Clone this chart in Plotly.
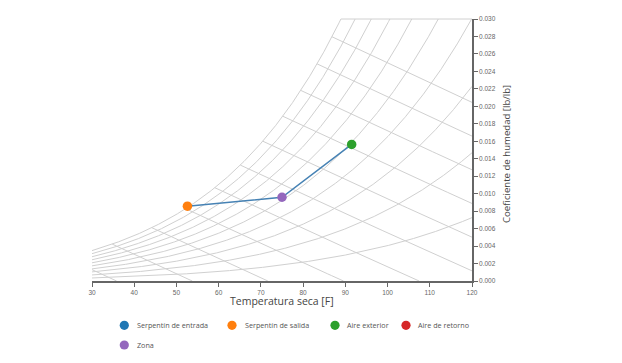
import numpy as np
import plotly.graph_objects as go

# ---------------- data ----------------
series_names = ["Serpentín de entrada", "Serpentín de salida", "Aire exterior",
                "Aire de retorno", "Zona"]
series_colors = ["#1f77b4", "#ff7f0e", "#2ca02c", "#d62728", "#9467bd"]

# visible state points (dry bulb [F], humidity ratio [lb/lb])
point_series = ["Serpentín de salida", "Zona", "Aire exterior"]
point_dry_bulb = [52.6, 75.0, 91.5]
point_humidity = [0.00857, 0.00959, 0.01564]

# process line joining the states
process_dry_bulb = [52.6, 75.0, 91.5]
process_humidity = [0.00857, 0.00959, 0.01564]

x_tick_values = [30, 40, 50, 60, 70, 80, 90, 100, 110, 120]
y_tick_values = [0.000, 0.002, 0.004, 0.006, 0.008, 0.010, 0.012, 0.014,
                 0.016, 0.018, 0.020, 0.022, 0.024, 0.026, 0.028, 0.030]

rh_levels = [0.1, 0.2, 0.3, 0.4, 0.5, 0.6, 0.7, 0.8, 0.9, 1.0]
enthalpy_levels_kj = [20, 30, 40, 50, 60, 70, 80, 90, 100, 110, 120]

T_MIN, T_MAX = 30, 120
W_MAX = 0.030
P_ATM = 14.696

# ---------------- psychrometric helpers (IP units) ----------------
def p_ws(t_f):
    T = np.asarray(t_f, dtype=float) + 459.67
    return np.exp(-1.0440397e4 / T - 1.1294650e1 - 2.7022355e-2 * T
                  + 1.2890360e-5 * T ** 2 - 2.4780681e-9 * T ** 3
                  + 6.5459673 * np.log(T))

def w_rh(t, rh):
    pw = rh * p_ws(t)
    return 0.621945 * pw / (P_ATM - pw)

def h_btu(t, w):
    return 0.240 * t + w * (1061.0 + 0.444 * t)

GRID = "#d0d0d0"
fig = go.Figure()

# relative humidity curves
t_grid = np.linspace(T_MIN, T_MAX, 721)
t_top = None
for rh in rh_levels:
    w = w_rh(t_grid, rh)
    keep = w <= W_MAX
    tt = list(t_grid[keep])
    ww = list(w[keep])
    if not keep.all():
        tc = float(np.interp(W_MAX, w, t_grid))
        tt.append(tc)
        ww.append(W_MAX)
        if rh == 1.0:
            t_top = tc
    fig.add_trace(go.Scatter(x=tt, y=ww, mode="lines", hoverinfo="skip",
                             line=dict(color=GRID, width=1), showlegend=False))

# enthalpy lines
def sat_temp_for_h(h):
    lo, hi = -20.0, 140.0
    for _ in range(80):
        mid = 0.5 * (lo + hi)
        if h_btu(mid, w_rh(mid, 1.0)) > h:
            hi = mid
        else:
            lo = mid
    return 0.5 * (lo + hi)

for hk in enthalpy_levels_kj:
    h = hk / 2.326
    ts = sat_temp_for_h(h)
    t0 = max(T_MIN, ts)
    t1 = min(T_MAX, h / 0.240)
    if t0 >= t1:
        continue
    tt = np.linspace(t0, t1, 40)
    ww = (h - 0.240 * tt) / (1061.0 + 0.444 * tt)
    fig.add_trace(go.Scatter(x=tt, y=ww, mode="lines", hoverinfo="skip",
                             line=dict(color=GRID, width=1), showlegend=False))

# process line
fig.add_trace(go.Scatter(x=process_dry_bulb, y=process_humidity, mode="lines",
                         line=dict(color="#4682b4", width=1.5), showlegend=False))

# state points
for name, t, w in zip(point_series, point_dry_bulb, point_humidity):
    col = series_colors[series_names.index(name)]
    fig.add_trace(go.Scatter(x=[t], y=[w], mode="markers", name=name,
                             marker=dict(color=col, size=9.5, line=dict(width=0)),
                             showlegend=False))

shapes = []
if t_top is not None:
    shapes.append(dict(type="line", xref="x", yref="paper", x0=t_top, x1=T_MAX,
                       y0=1, y1=1, line=dict(color=GRID, width=1), layer="below"))

# page offset of the plot div (browser body margin)
OFF = 8
FIG_W, FIG_H = 622 - 2 * OFF, 363 - 2 * OFF
# plot area in window pixels
L, R, TOP, BOT = 92, 472, 15, 281

def px_x(p):
    return (p - L) / (R - L)

def px_y(p):
    return (BOT - p) / (BOT - TOP)

legend_pos = [(124.3, 135.0, 326), (232.0, 242.7, 326), (335.0, 345.0, 326),
              (406.0, 416.0, 326), (124.3, 135.0, 346)]
annotations = []
for name, col, (cx, tx, cy) in zip(series_names, series_colors, legend_pos):
    shapes.append(dict(type="circle", xref="paper", yref="paper",
                       xsizemode="pixel", ysizemode="pixel",
                       xanchor=px_x(cx), yanchor=px_y(cy),
                       x0=-4.6, x1=4.6, y0=-4.6, y1=4.6,
                       fillcolor=col, line=dict(width=0)))
    annotations.append(dict(xref="paper", yref="paper", x=px_x(tx), y=px_y(cy),
                            xanchor="left", yanchor="middle", showarrow=False,
                            text=name,
                            font=dict(family="Open Sans", size=7.2, color="#555")))

annotations.append(dict(xref="paper", yref="paper", x=0.5, y=px_y(301),
                        xanchor="center", yanchor="middle", showarrow=False,
                        text="Temperatura seca [F]",
                        font=dict(family="Open Sans", size=10.5, color="#444")))
annotations.append(dict(xref="paper", yref="paper", x=px_x(507), y=px_y(152),
                        xanchor="center", yanchor="middle", showarrow=False,
                        textangle=-90, text="Coeficiente de humedad [lb/lb]",
                        font=dict(family="Open Sans", size=9.6, color="#444")))

fig.update_layout(
    width=FIG_W, height=FIG_H,
    margin=dict(l=L - OFF, r=FIG_W - (R - OFF), t=TOP - OFF, b=FIG_H - (BOT - OFF)),
    paper_bgcolor="white", plot_bgcolor="white",
    shapes=shapes, annotations=annotations, showlegend=False,
    xaxis=dict(range=[T_MIN, T_MAX], tickvals=x_tick_values,
               ticktext=[str(v) for v in x_tick_values],
               showgrid=False, zeroline=False, showline=True,
               linecolor="#666", linewidth=1.5, ticks="outside", ticklen=4,
               tickcolor="#666", tickwidth=1,
               tickfont=dict(family="Liberation Sans", size=6.5, color="#666")),
    yaxis=dict(range=[0, W_MAX], side="right", tickvals=y_tick_values,
               tickformat=".3f", showgrid=False, zeroline=False, showline=True,
               linecolor="#666", linewidth=1.5, ticks="outside", ticklen=4,
               tickcolor="#666", tickwidth=1,
               tickfont=dict(family="Liberation Sans", size=6.5, color="#666")),
)

fig.write_html("out.html")
